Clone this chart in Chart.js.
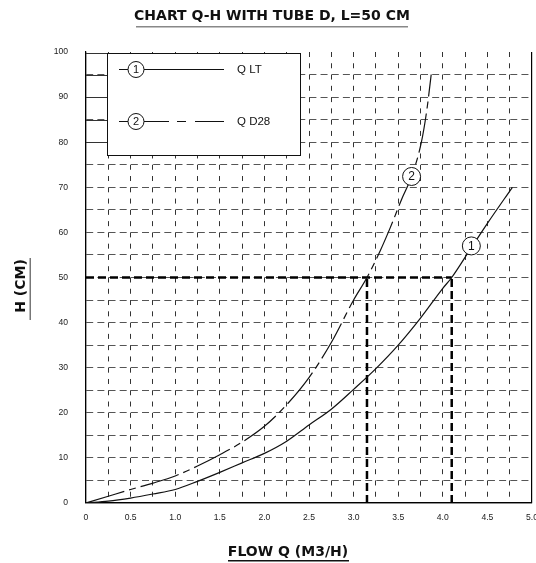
<!DOCTYPE html>
<html><head><meta charset="utf-8">
<script src="https://cdn.jsdelivr.net/npm/chart.js@4.4.1/dist/chart.umd.min.js"></script>
<style>html,body{margin:0;padding:0;background:#fff;overflow:hidden}canvas{display:block}</style>
</head><body>
<canvas id="c" width="536" height="563"></canvas>
<script>
const titleText = 'CHART Q-H WITH TUBE D, L=50 CM';
const xTitle = 'FLOW Q (M3/H)';
const yTitle = 'H (CM)';
const seriesNames = ['Q LT', 'Q D28'];
const xTickLabels = ['0','0.5','1.0','1.5','2.0','2.5','3.0','3.5','4.0','4.5','5.0'];
const yTickLabels = ['0','10','20','30','40','50','60','70','80','90','100'];
const flowLT = [0,0.25,0.5,0.75,1.0,1.25,1.5,1.75,2.0,2.25,2.5,2.75,3.0,3.25,3.5,3.75,4.0,4.1,4.3,4.5,4.78];
const headLT = [0,0.4,1.1,2.0,3.0,4.8,6.8,8.9,11.0,13.7,17.3,20.8,25.2,29.8,35.0,41.0,47.6,50.0,56.0,62.0,70.0];
const flowD28 = [0,0.25,0.5,0.75,1.0,1.25,1.5,1.75,2.0,2.25,2.5,2.75,3.0,3.15,3.3,3.41,3.54,3.65,3.76,3.82,3.87];
const headD28 = [0,1.5,3.0,4.4,6.0,8.2,10.7,13.5,17.0,21.8,27.8,35.6,45.0,50.0,56.0,61.0,67.4,72.4,80.0,87.0,95.0];
const refHead = 50;
const refFlows = [3.15, 4.1];
const markerLabels = ['1', '2'];
const markerFlows = [4.32, 3.65];
const markerHeads = [57.0, 72.4];
const legendSolidLevels = [95, 90, 85, 80];

const pts = (xs, ys) => xs.map((v, i) => ({x: v, y: ys[i]}));

function circleLabel(ctx, cx, cy, r, txt, fs) {
  ctx.beginPath();
  ctx.arc(cx, cy, r, 0, Math.PI * 2);
  ctx.fillStyle = '#fff';
  ctx.fill();
  ctx.lineWidth = 1;
  ctx.strokeStyle = '#111';
  ctx.setLineDash([]);
  ctx.stroke();
  ctx.fillStyle = '#111';
  ctx.font = fs + 'px "Liberation Sans"';
  ctx.textAlign = 'center';
  ctx.textBaseline = 'middle';
  ctx.fillText(txt, cx, cy + 0.5);
}

const deco = {
  id: 'deco',
  beforeDatasetsDraw(chart) {
    const {ctx, chartArea: a, scales: {y}} = chart;
    const bx1 = a.left + 21, by1 = a.top + 1, bx2 = a.left + 214, by2 = a.top + 103;
    ctx.save();
    ctx.fillStyle = '#fff';
    ctx.fillRect(bx1, by1, bx2 - bx1, by2 - by1);
    ctx.strokeStyle = '#111';
    ctx.lineWidth = 1;
    ctx.setLineDash([]);
    ctx.strokeRect(bx1 + 0.5, by1 + 0.5, bx2 - bx1, by2 - by1);
    ctx.beginPath();
    ctx.moveTo(a.left, by1 + 0.5); ctx.lineTo(bx1, by1 + 0.5);
    legendSolidLevels.forEach(v => {
      const py = Math.round(y.getPixelForValue(v)) + 0.5;
      ctx.moveTo(a.left, py); ctx.lineTo(bx1, py);
    });
    ctx.strokeStyle = '#333';
    ctx.stroke();
    const rows = [by1 + 16.5, by1 + 68.5];
    const lx1 = a.left + 33, lx2 = a.left + 138, cx = a.left + 50;
    ctx.strokeStyle = '#111';
    ctx.lineWidth = 1;
    ctx.beginPath(); ctx.moveTo(lx1, rows[0]); ctx.lineTo(lx2, rows[0]); ctx.stroke();
    ctx.setLineDash([50, 8, 9, 9, 29, 100]);
    ctx.beginPath(); ctx.moveTo(lx1, rows[1]); ctx.lineTo(lx2, rows[1]); ctx.stroke();
    ctx.setLineDash([]);
    rows.forEach((ry, i) => {
      circleLabel(ctx, cx, ry, 8, markerLabels[i], 11);
      ctx.fillStyle = '#111';
      ctx.font = '11.5px "Liberation Sans"';
      ctx.textAlign = 'left';
      ctx.textBaseline = 'middle';
      ctx.fillText(seriesNames[i], a.left + 151, ry);
    });
    ctx.restore();
  },
  afterDatasetsDraw(chart) {
    const {ctx, scales: {x, y}} = chart;
    ctx.save();
    markerLabels.forEach((t, i) => {
      circleLabel(ctx, x.getPixelForValue(markerFlows[i]), y.getPixelForValue(markerHeads[i]), 9, t, 12);
    });
    ctx.restore();
  },
  afterDraw(chart) {
    const {ctx} = chart;
    ctx.save();
    ctx.font = 'bold 14px "DejaVu Sans"';
    ctx.textAlign = 'center';
    ctx.textBaseline = 'alphabetic';
    ctx.fillStyle = '#111';
    ctx.fillText(titleText, 272, 20);
    ctx.fillStyle = '#888';
    ctx.fillRect(136, 26, 272, 1.5);
    ctx.fillStyle = '#111';
    ctx.fillText(xTitle, 288, 556);
    ctx.fillRect(228, 560, 121, 1.5);
    ctx.translate(25, 286);
    ctx.rotate(-Math.PI / 2);
    ctx.fillText(yTitle, 0, 0);
    ctx.restore();
    ctx.save();
    ctx.fillStyle = '#777';
    ctx.fillRect(29.5, 258, 1.5, 62);
    ctx.restore();
  }
};

const tickFont = {family: 'Liberation Sans', size: 8.6};
const edgeX = v => v <= 0 || v >= 5;

new Chart(document.getElementById('c'), {
  type: 'scatter',
  data: {
    datasets: [
      {label: seriesNames[0], data: pts(flowLT, headLT), showLine: true, borderColor: '#111', borderWidth: 1.2,
       pointRadius: 0, cubicInterpolationMode: 'monotone', fill: false},
      {label: seriesNames[1], data: pts(flowD28, headD28), showLine: true, borderColor: '#111', borderWidth: 1.2,
       borderDash: [40, 5, 7, 5], pointRadius: 0, cubicInterpolationMode: 'monotone', fill: false},
      {label: 'ref H', data: [{x: 0, y: refHead}, {x: refFlows[1], y: refHead}], showLine: true, borderColor: '#000',
       borderWidth: 2.5, borderDash: [8, 4], pointRadius: 0},
      {label: 'ref Q1', data: [{x: refFlows[0], y: 0}, {x: refFlows[0], y: refHead}], showLine: true, borderColor: '#000',
       borderWidth: 2.5, borderDash: [8, 4], pointRadius: 0},
      {label: 'ref Q2', data: [{x: refFlows[1], y: 0}, {x: refFlows[1], y: refHead}], showLine: true, borderColor: '#000',
       borderWidth: 2.5, borderDash: [8, 4], pointRadius: 0}
    ]
  },
  options: {
    responsive: false,
    devicePixelRatio: 1,
    animation: false,
    layout: {padding: {top: 52, right: 4, left: 0, bottom: 0}},
    plugins: {legend: {display: false}, tooltip: {enabled: false}, title: {display: false}},
    scales: {
      x: {
        type: 'linear', min: 0, max: 5,
        afterFit(s) { s.height = 60; s.paddingLeft = 0; s.paddingRight = 0; },
        ticks: {stepSize: 0.25, autoSkip: false, maxRotation: 0, padding: 9, font: tickFont, color: '#222',
                callback: (v, i) => (i % 2 === 0 ? xTickLabels[i / 2] : '')},
        grid: {drawTicks: false, lineWidth: c => (c.tick && edgeX(c.tick.value) ? 1.2 : 1),
               color: c => (c.tick && edgeX(c.tick.value) ? '#000' : '#333')},
        border: {display: true, color: '#000', width: 1.2,
                 dash: c => (c.tick && edgeX(c.tick.value) ? [] : [5, 6.275])}
      },
      y: {
        min: 0, max: 100,
        afterFit(s) { s.width = 86; s.paddingTop = 0; s.paddingBottom = 0; },
        ticks: {stepSize: 5, autoSkip: false, padding: 18, font: tickFont, color: '#222',
                callback: (v, i) => (i % 2 === 0 ? yTickLabels[i / 2] : '')},
        grid: {drawTicks: false, lineWidth: c => (c.tick && c.tick.value <= 0 ? 1.2 : 1),
               color: c => (c.tick && c.tick.value >= 100 ? 'rgba(0,0,0,0)' : (c.tick && c.tick.value <= 0 ? '#000' : '#555'))},
        border: {display: true, color: '#000', width: 1.2,
                 dash: c => (c.tick && c.tick.value <= 0 ? [] : [7, 4.16])}
      }
    }
  },
  plugins: [deco]
});
</script>
</body></html>
